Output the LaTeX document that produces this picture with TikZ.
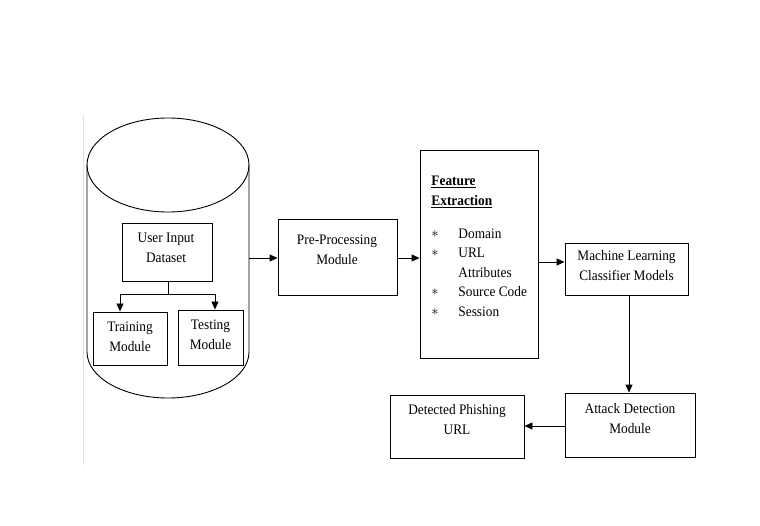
\documentclass[tikz,border=0pt]{standalone}
\usepackage{fontspec}
\setmainfont[FakeStretch=0.92]{Liberation Serif}
\usetikzlibrary{arrows.meta}
\begin{document}
\begin{tikzpicture}[x=1pt,y=-1pt,
  line width=0.9pt,
  box/.style={draw, rectangle, inner sep=0pt},
  txt/.style={align=center, inner sep=0pt, font=\fontsize{14.5}{20}\selectfont},
  ltxt/.style={anchor=base west, inner sep=0pt, font=\fontsize{14.5}{14}\selectfont},
  arr/.style={-{Triangle[length=8pt,width=7pt]}}]
\useasboundingbox (0,0) rectangle (760,526);

% faint page edge on the left
\draw[gray!25, line width=0.6pt] (83,115) -- (83,465);

% dataset cylinder
\draw (168,165) ellipse [x radius=81, y radius=47];
\draw (87,165) -- (87,352) arc [start angle=180, end angle=0, x radius=81, y radius=46] -- (249,165);
\node[inner sep=0pt, minimum width=162pt, minimum height=281pt] (cyl) at (168,258) {};

% boxes inside the cylinder
\node[box, minimum width=90pt, minimum height=58pt] (uid) at (167.5,252) {};
\node[txt] (uidt) at (166,248) {User Input\\Dataset};
\node[box, minimum width=74pt, minimum height=53pt] (train) at (130,338.5) {};
\node[txt] (traint) at (130,337) {Training\\Module};
\node[box, minimum width=65pt, minimum height=55pt] (test) at (210.5,337.5) {};
\node[txt] (testt) at (210.5,335) {Testing\\Module};
\coordinate (split) at (168,294);
\draw (uid.south -| split) -- (split);
\draw[arr] (split) -| (train.north -| 120,0);
\draw[arr] (split) -| (test.north -| 215,0);

% pipeline
\node[box, minimum width=119pt, minimum height=76pt] (pre) at (337.5,257) {};
\node[txt] (pret) at (337,250) {Pre-Processing\\Module};

\node[box, minimum width=118pt, minimum height=208pt] (fe) at (479,254) {};
\node[ltxt, font=\fontsize{14.5}{14}\selectfont\bfseries] (fe1) at (431,186) {\underline{Feature}};
\node[ltxt, font=\fontsize{14.5}{14}\selectfont\bfseries] (fe2) at (431,206) {\underline{Extraction}};
\node[ltxt] (b1) at (431,238) {$\ast$};
\node[ltxt] (d1) at (458,239) {Domain};
\node[ltxt] (b2) at (431,257) {$\ast$};
\node[ltxt] (d2) at (458,258) {URL};
\node[ltxt] (d3) at (458,278) {Attributes};
\node[ltxt] (b4) at (431,296) {$\ast$};
\node[ltxt] (d4) at (458,297) {Source Code};
\node[ltxt] (b5) at (431,316) {$\ast$};
\node[ltxt] (d5) at (458,317) {Session};

\node[box, minimum width=123pt, minimum height=52pt] (ml) at (626.5,269) {};
\node[txt] (mlt) at (626.5,266) {Machine Learning\\Classifier Models};

\node[box, minimum width=130pt, minimum height=64pt] (att) at (630,425) {};
\node[txt] (attt) at (630,419) {Attack Detection\\Module};

\node[box, minimum width=134pt, minimum height=63pt] (det) at (457,426.5) {};
\node[txt] (dett) at (457,420) {Detected Phishing\\URL};

% connectors
\draw[arr] (cyl.east |- 0,258) -- (pre.west |- 0,258);
\draw[arr] (pre.east |- 0,258) -- (fe.west |- 0,258);
\draw[arr] (fe.east |- 0,262) -- (ml.west |- 0,262);
\draw[arr] (ml.south -| 629,0) -- (att.north -| 629,0);
\draw[arr] (att.west |- 0,426) -- (det.east |- 0,426);
\end{tikzpicture}
\end{document}
